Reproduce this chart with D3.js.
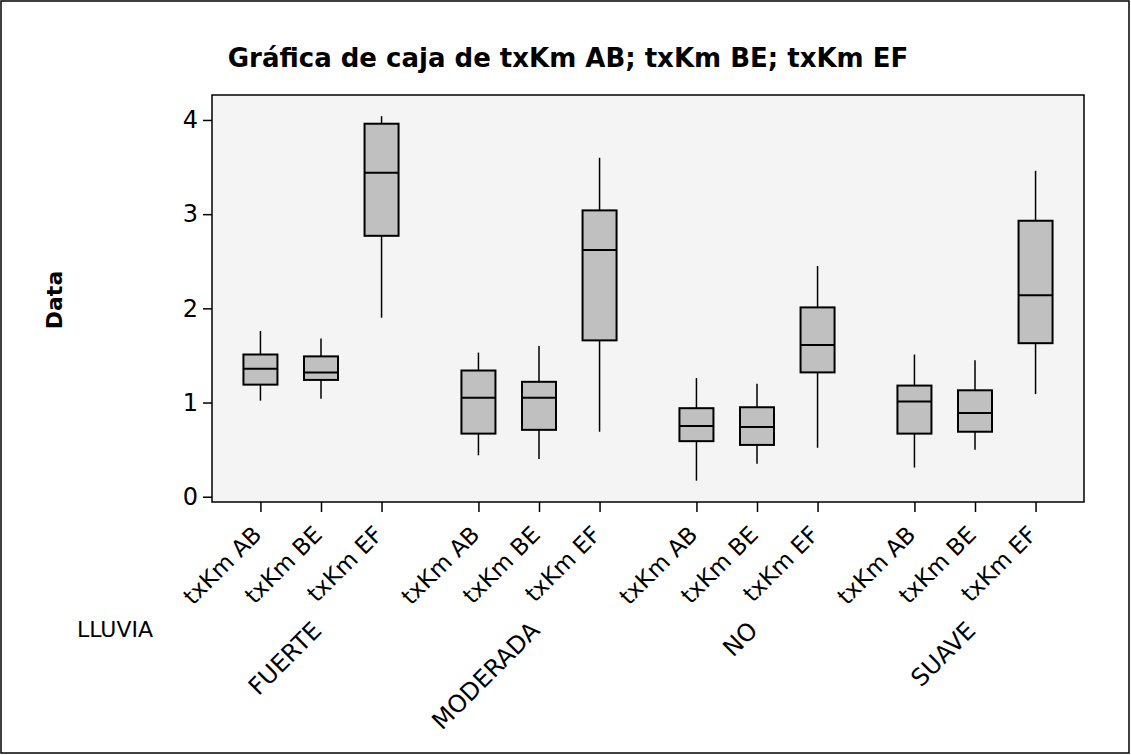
<!DOCTYPE html>
<html>
<head>
<meta charset="utf-8">
<script src="https://cdn.jsdelivr.net/npm/d3@7"></script>
<style>
  body { margin: 0; background: #fff; }
  text { font-family: "DejaVu Sans", Verdana, sans-serif; fill: #000; }
</style>
</head>
<body>
<svg id="chart" width="1131" height="755"></svg>
<script>
// groups (LLUVIA) and the three variables in each group
const groups = ["FUERTE", "MODERADA", "NO", "SUAVE"];
const variables = ["txKm AB", "txKm BE", "txKm EF"];
const yTicks = [0, 1, 2, 3, 4];

// five-number summaries: [whiskerLow, q1, median, q3, whiskerHigh]
const fuerte   = [[1.02, 1.19, 1.36, 1.51, 1.76], [1.04, 1.24, 1.32, 1.49, 1.68], [1.90, 2.77, 3.44, 3.96, 4.04]];
const moderada = [[0.44, 0.67, 1.05, 1.34, 1.53], [0.40, 0.71, 1.05, 1.22, 1.60], [0.69, 1.66, 2.62, 3.04, 3.60]];
const no       = [[0.17, 0.59, 0.75, 0.94, 1.26], [0.35, 0.55, 0.74, 0.95, 1.20], [0.52, 1.32, 1.61, 2.01, 2.45]];
const suave    = [[0.31, 0.67, 1.01, 1.18, 1.51], [0.50, 0.69, 0.89, 1.13, 1.45], [1.09, 1.63, 2.14, 2.93, 3.46]];

const summaries = [fuerte, moderada, no, suave];

// flatten into one list of boxes
const boxes = [];
groups.forEach((g, gi) => {
    variables.forEach((v, vi) => {
        const s = summaries[gi][vi];
        boxes.push({ group: g, variable: v, lo: s[0], q1: s[1], med: s[2], q3: s[3], hi: s[4] });
    });
});

const plot = { left: 212, right: 1084, top: 95, bottom: 502 };
const boxWidth = 34;

const svg = d3.select("#chart");

// outer frame
svg.append("rect")
    .attr("x", 1).attr("y", 1)
    .attr("width", 1128).attr("height", 752)
    .attr("fill", "#fff")
    .attr("stroke", "#000")
    .attr("stroke-width", 1.5);

// scales
const yScale = d3.scaleLinear()
    .domain([-0.056, 4.265])
    .range([plot.bottom, plot.top]);

const groupScale = d3.scaleBand()
    .domain(groups)
    .range([plot.left, plot.right])
    .padding(0);

const varScale = d3.scalePoint()
    .domain(variables)
    .range([0, groupScale.bandwidth()])
    .padding(0.8);

const xOf = d => groupScale(d.group) + varScale(d.variable);

// plot area background
svg.append("rect")
    .attr("x", plot.left).attr("y", plot.top)
    .attr("width", plot.right - plot.left)
    .attr("height", plot.bottom - plot.top)
    .attr("fill", "#f4f4f4");

// y axis
const yAxisGroup = svg.append("g")
    .attr("transform", `translate(${plot.left},0)`)
    .call(d3.axisLeft(yScale).tickValues(yTicks).tickSize(9).tickPadding(5).tickFormat(d3.format("d")));
yAxisGroup.select(".domain").remove();
yAxisGroup.selectAll(".tick line").attr("stroke", "#000").attr("stroke-width", 1.5);
yAxisGroup.selectAll(".tick text")
    .style("font-family", "DejaVu Sans, sans-serif")
    .style("font-size", "24px");

// x axis, one small axis per group
groups.forEach(g => {
    const ax = svg.append("g")
        .attr("transform", `translate(${groupScale(g)},${plot.bottom})`)
        .call(d3.axisBottom(varScale).tickSize(10));
    ax.select(".domain").remove();
    ax.selectAll(".tick line").attr("stroke", "#000").attr("stroke-width", 1.5);
    ax.selectAll(".tick text")
        .style("font-family", "DejaVu Sans, sans-serif")
        .style("font-size", "23px")
        .attr("x", 0).attr("y", 0).attr("dy", 0)
        .attr("text-anchor", "end")
        .attr("transform", "translate(2,34) rotate(-45)");
});

// group labels
svg.append("g")
    .selectAll("text")
    .data(groups)
    .join("text")
    .attr("text-anchor", "end")
    .attr("font-size", 24)
    .attr("transform", d => `translate(${groupScale(d) + groupScale.bandwidth() / 2 + 2},632) rotate(-45)`)
    .text(d => d);

svg.append("text")
    .attr("x", 153).attr("y", 637)
    .attr("text-anchor", "end")
    .attr("font-size", 22)
    .text("LLUVIA");

// whiskers
svg.append("g")
    .selectAll("line")
    .data(boxes)
    .join("line")
    .attr("x1", xOf).attr("x2", xOf)
    .attr("y1", d => yScale(d.lo))
    .attr("y2", d => yScale(d.hi))
    .attr("stroke", "#000")
    .attr("stroke-width", 1.5);

// boxes
svg.append("g")
    .selectAll("rect")
    .data(boxes)
    .join("rect")
    .attr("x", d => xOf(d) - boxWidth / 2)
    .attr("y", d => yScale(d.q3))
    .attr("width", boxWidth)
    .attr("height", d => yScale(d.q1) - yScale(d.q3))
    .attr("fill", "#c0c0c0")
    .attr("stroke", "#000")
    .attr("stroke-width", 2);

// medians
svg.append("g")
    .selectAll("line")
    .data(boxes)
    .join("line")
    .attr("x1", d => xOf(d) - boxWidth / 2)
    .attr("x2", d => xOf(d) + boxWidth / 2)
    .attr("y1", d => yScale(d.med))
    .attr("y2", d => yScale(d.med))
    .attr("stroke", "#000")
    .attr("stroke-width", 2);

// plot area border on top
svg.append("rect")
    .attr("x", plot.left).attr("y", plot.top)
    .attr("width", plot.right - plot.left)
    .attr("height", plot.bottom - plot.top)
    .attr("fill", "none")
    .attr("stroke", "#000")
    .attr("stroke-width", 1.5);

// title and y label
svg.append("text")
    .attr("x", 568).attr("y", 67)
    .attr("text-anchor", "middle")
    .attr("font-size", 26)
    .attr("font-weight", "bold")
    .text("Gráfica de caja de txKm AB; txKm BE; txKm EF");

svg.append("text")
    .attr("transform", "translate(62,300) rotate(-90)")
    .attr("text-anchor", "middle")
    .attr("font-size", 22)
    .attr("font-weight", "bold")
    .text("Data");
</script>
</body>
</html>
